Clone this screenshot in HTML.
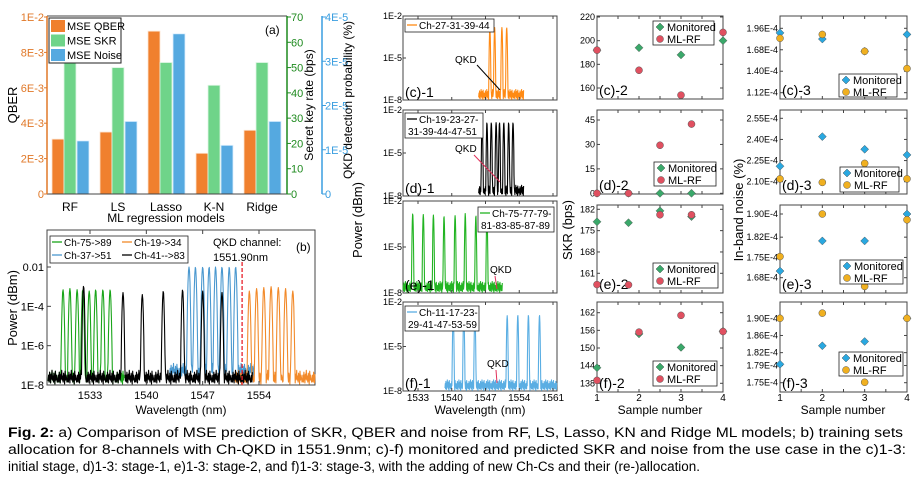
<!DOCTYPE html>
<html><head><meta charset="utf-8">
<style>
html,body{margin:0;padding:0;background:#fff;}
svg{display:block;font-family:"Liberation Sans",Arial,sans-serif;}
</style></head>
<body>
<svg id="fig" width="923" height="482" viewBox="0 0 923 482" xmlns="http://www.w3.org/2000/svg"></svg>
<script>
// ---------- Panel (a) data ----------
const aCategories = ["RF","LS","Lasso","K-N","Ridge"];
const aQBER = [3.1e-3, 3.5e-3, 9.2e-3, 2.3e-3, 3.6e-3];
const aSKR = [52, 50, 52, 43, 52];
const aNoise = [1.2e-5, 1.64e-5, 3.62e-5, 1.1e-5, 1.64e-5];
const aQberTicks = ["0","2E-3","4E-3","6E-3","8E-3","1E-2"];
const aQberTickVals = [0,2e-3,4e-3,6e-3,8e-3,1e-2];
const aSkrTicks = [0,10,20,30,40,50,60,70];
const aNoiseTickVals = [0,1e-5,2e-5,3e-5,4e-5];
const aNoiseTicks = ["0","1E-5","2E-5","3E-5","4E-5"];

// ---------- Panel (b) data ----------
const bGreenPeaks = [1529.65,1530.5,1531.4,1532.1,1532.9,1533.7,1534.6,1535.5];
const bGreenPow = [7e-4,8e-4,7e-4,7e-4,6e-4,7e-4,7e-4,7e-4];
const bBlackPeaks = [1532.2,1537.1,1539.5,1542.1,1544.5,1547.0,1549.4];
const bBlackPow = [1.1e-3,5e-4,4e-4,6e-4,7e-4,6e-4,5e-4];
const bBluePeaks = [1545.3,1546.1,1547.0,1547.8,1548.6,1549.4,1550.3,1551.1];
const bBluePow = [1e-2,1e-2,1e-2,1e-2,1e-2,1e-2,1e-2,1e-2];
const bOrangePeaks = [1552.8,1553.7,1554.6,1555.5,1556.4,1557.3,1558.2];
const bOrangePow = [6e-4,8e-4,9e-4,1e-3,9e-4,8e-4,6e-4];
const bXTicks = [1533,1540,1547,1554];
const bYTickVals = [1e-2,1e-4,1e-6,1e-8];
const bYTicks = ["0.01","1E-4","1E-6","1E-8"];

// ---------- Column 1 spectra data ----------
const cPeaks = [1547.9,1548.9,1550.4,1551.4];
const cPow = [1.5e-3,1.5e-3,1.5e-3,1.5e-3];
const dPeaks = [1546.3,1547.3,1548.2,1549.2,1549.9,1550.8,1551.8,1552.7];
const dPow = [1.3e-3,1.3e-3,1.3e-3,1.3e-3,1.3e-3,1.3e-3,1.3e-3,1.3e-3];
const ePeaks = [1531.9,1534.1,1536.2,1538.4,1540.7,1542.8,1545.0,1547.3];
const ePow = [1.5e-3,1.3e-3,1.2e-3,1.0e-3,1.1e-3,1.5e-3,1.1e-3,1.0e-3];
const fPeaks = [1540.3,1542.5,1544.8,1551.5,1553.7,1555.9,1558.2];
const fPow = [1.2e-3,1.2e-3,1.2e-3,1.2e-3,1.3e-3,1.3e-3,1.3e-3];
const colXTicks = [1533,1540,1547,1554,1561];

// ---------- Columns 2/3 scatter data ----------
const samples = [1,2,3,4];
const c2Mon = [192,194,188,200];   const c2RF = [192,175,154,207];
const c3Mon = [1.90,1.82,1.66,1.88]; const c3RF = [1.83,1.88,1.66,1.435];
const d2Mon = [0,0,0,0];           const d2RF = [0,0,29.5,42.5];
const d3Mon = [2.21,2.42,2.33,2.29]; const d3RF = [2.12,2.095,2.23,2.12];
const e2Mon = [177.9,177.6,181.5,179.6]; const e2RF = [157.3,157.2,180.2,180.2];
const e3Mon = [1.703,1.807,1.807,1.90]; const e3RF = [1.753,1.90,1.65,1.88];
const f2Mon = [143.3,154.8,150.2,155.7]; const f2RF = [139,155.4,161.1,155.6];
const f3Mon = [1.793,1.836,1.846,1.90]; const f3RF = [1.90,1.912,1.751,1.90];
const c2Ticks = [160,180,200,220]; const c3Ticks = [1.12,1.40,1.68,1.96];
const d2Ticks = [0,15,30,45];      const d3Ticks = [2.10,2.25,2.40,2.55];
const e2Ticks = [161,168,175,182]; const e3Ticks = [1.68,1.75,1.82,1.90];
const f2Ticks = [138,144,150,156,162]; const f3Ticks = [1.75,1.79,1.82,1.86,1.90];

const NS="http://www.w3.org/2000/svg";
const svg=document.getElementById('fig');
function mk(tag,attrs,parent){const e=document.createElementNS(NS,tag);for(const k in attrs)e.setAttribute(k,attrs[k]);(parent||svg).appendChild(e);return e;}
function txt(s,x,y,size,anchor,fill,parent,extra){const t=mk('text',Object.assign({x:x,y:y,'font-size':size,'text-anchor':anchor||'start',fill:fill||'#000'},extra||{}),parent);t.textContent=s;return t;}
function lin(d0,d1,r0,r1){return v=>r0+(v-d0)/(d1-d0)*(r1-r0);}
function logS(d0,d1,r0,r1){return v=>r0+(Math.log10(v)-d0)/(d1-d0)*(r1-r0);}

// ================= Panel (a) =================
const gA=mk('g',{});


const aY1=lin(0,1e-2,194,17), aY2=lin(0,70,194,17), aY3=lin(0,4e-5,194,17);
const aX=i=>70+i*48;
const bw=12;
aCategories.forEach((c,i)=>{
  const r1=mk('rect',{x:aX(i)-18,y:aY1(aQBER[i]),width:bw,height:194-aY1(aQBER[i]),fill:'#f0802e',stroke:'#fde3cf','stroke-width':0.8},gA);
  
  
  const r2=mk('rect',{x:aX(i)-6,y:aY2(aSKR[i]),width:bw,height:194-aY2(aSKR[i]),fill:'#6fd489',stroke:'#dff6e5','stroke-width':0.8},gA);
  
  
  const r3=mk('rect',{x:aX(i)+7,y:aY3(aNoise[i]),width:bw,height:194-aY3(aNoise[i]),fill:'#55a9e0',stroke:'#dcefff','stroke-width':0.8},gA);
  
  
  const l=txt(c,aX(i),211,12,'middle','#000',gA);
  
  
});
mk('line',{x1:47,y1:16,x2:287,y2:16,stroke:'#444','stroke-width':1},gA);
mk('line',{x1:47,y1:194,x2:287,y2:194,stroke:'#444','stroke-width':1},gA);
mk('line',{x1:47,y1:16,x2:47,y2:194,stroke:'#e07828','stroke-width':1.5},gA);
mk('line',{x1:287,y1:16,x2:287,y2:194,stroke:'#1e8a1e','stroke-width':1.5},gA);
mk('line',{x1:322,y1:16,x2:322,y2:194,stroke:'#3a9ee0','stroke-width':1.5},gA);
aQberTickVals.forEach((v,i)=>{mk('line',{x1:44,y1:aY1(v),x2:47,y2:aY1(v),stroke:'#e07828'},gA);
  const t=txt(aQberTicks[i],44,aY1(v)+4,11,'end','#e07828',gA);
  });
aSkrTicks.forEach(v=>{mk('line',{x1:287,y1:aY2(v),x2:291,y2:aY2(v),stroke:'#1e8a1e'},gA);
  const t=txt(String(v),291,aY2(v)+4,11,'start','#1e8a1e',gA);
  });
aNoiseTickVals.forEach((v,i)=>{mk('line',{x1:322,y1:aY3(v),x2:326,y2:aY3(v),stroke:'#3a9ee0'},gA);
  const t=txt(aNoiseTicks[i],325,aY3(v)+4,11,'start','#3a9ee0',gA);
  });
let t;
t=txt('QBER',17,105,13,'middle','#000',gA,{transform:'rotate(-90 17 105)'});

t=txt('Secret key rate (bps)',313,105,12,'middle','#000',gA,{transform:'rotate(-90 313 105)'});

t=txt('QKD detection probability (%)',352,100,12,'middle','#000',gA,{transform:'rotate(-90 352 100)'});

t=txt('ML regression models',166,222,12,'middle','#000',gA);

t=txt('(a)',265,34,12,'start','#000',gA);

const aLeg=mk('g',{},gA);


mk('rect',{x:49,y:18,width:72,height:45,fill:'#fff',stroke:'#222','stroke-width':1},aLeg);
[['MSE QBER','#f0802e'],['MSE SKR','#6fd489'],['MSE Noise','#55a9e0']].forEach((e,i)=>{
  mk('rect',{x:51,y:20+i*14.5,width:14,height:12,fill:e[1]},aLeg);
  const lt=txt(e[0],67,30+i*14.5,11,'start','#000',aLeg);
  
});

// ================= spectrum helper =================
const jitter=[0.15,0.45,0.1,0.6,0.3,0.05,0.5,0.25,0.7,0.2,0.4,0.1,0.55,0.35,0.0,0.65,0.2,0.45,0.3,0.1];
function spectrum(g,peaks,pows,fs,fe,xs,ys,color,hw,floorLog){
  let d='';let k=0;
  for(let l=fs;l<=fe;l+=0.06){
    let lp=floorLog+jitter[k%jitter.length];k++;
    peaks.forEach((p,i)=>{const v=Math.log10(pows[i])-6*Math.pow((l-p)/hw,2);if(v>lp)lp=v;});
    d+=(d?'L':'M')+xs(l).toFixed(1)+' '+ys(Math.pow(10,lp)).toFixed(1);
  }
  const p=mk('path',{d:d,fill:'none',stroke:color,'stroke-width':1.1,'stroke-linejoin':'round'},g);
  return p;
}

// ================= Panel (b) =================
const gB=mk('g',{});


const bX=lin(1533,1554,90,259), bY=logS(-8,-2,385,267);
mk('rect',{x:47,y:230,width:268,height:155,fill:'#fff',stroke:'#444','stroke-width':1},gB);
let s;
s=spectrum(gB,bGreenPeaks,bGreenPow,1527.8,1537.3,bX,bY,'#1aa51a',0.33,-7.95);

s=spectrum(gB,bBluePeaks,bBluePow,1542.9,1553.4,bX,bY,'#4a98cf',0.33,-7.6);

s=spectrum(gB,bOrangePeaks,bOrangePow,1551.0,1561.0,bX,bY,'#f28a2a',0.33,-7.95);

s=spectrum(gB,bBlackPeaks,bBlackPow,1527.8,1553.2,bX,bY,'#000',0.3,-7.95);

const qk=mk('line',{x1:bX(1551.9),y1:262,x2:bX(1551.9),y2:385,stroke:'#e8202a','stroke-width':1.3,'stroke-dasharray':'4 2'},gB);

bXTicks.forEach(v=>{mk('line',{x1:bX(v),y1:385,x2:bX(v),y2:381,stroke:'#444'},gB);mk('line',{x1:bX(v),y1:230,x2:bX(v),y2:234,stroke:'#444'},gB);
  const tt=txt(String(v),bX(v),399,11,'middle','#000',gB);});
bYTickVals.forEach((v,i)=>{mk('line',{x1:47,y1:bY(v),x2:51,y2:bY(v),stroke:'#444'},gB);
  const tt=txt(bYTicks[i],44,bY(v)+4,11,'end','#000',gB);});
t=txt('Power (dBm)',17,308,13,'middle','#000',gB,{transform:'rotate(-90 17 308)'});

t=txt('Wavelength (nm)',181,414,12,'middle','#000',gB);

t=txt('QKD channel:',213,246,11,'start','#000',gB);

t=txt('1551.90nm',213,261,11,'start','#000',gB);

t=txt('(b)',296,251,12,'start','#000',gB);

const bLeg=mk('g',{},gB);


mk('rect',{x:50,y:236,width:138,height:27,fill:'#fff',stroke:'#222','stroke-width':0.8},bLeg);
[['Ch-75->89','#1aa51a',52,246],['Ch-19->34','#f28a2a',122,246],['Ch-37->51','#4a98cf',52,259],['Ch-41-->83','#000',122,259]].forEach(e=>{
  mk('line',{x1:e[2],y1:e[3]-4,x2:e[2]+10,y2:e[3]-4,stroke:e[1],'stroke-width':1.3},bLeg);
  const lt=txt(e[0],e[2]+12,e[3],10,'start','#000',bLeg);
});

// ================= Column 1 spectra =================
const colX=lin(1533,1561,418,553);
function specPanel(name,top,bot,peaks,pows,fs,fe,color,legLines,legBox,label,qkd,qkdColor,showX){
  const g=mk('g',{});
  
  
  const ys=logS(-8,-2,bot,top);
  mk('rect',{x:403,y:top,width:154,height:bot-top,fill:'#fff',stroke:'#444','stroke-width':1},g);
  const sp=spectrum(g,peaks,pows,fs,fe,colX,ys,color,0.28,-7.95);
  
  [1e-2,1e-5,1e-8].forEach((v,i)=>{mk('line',{x1:403,y1:ys(v),x2:406,y2:ys(v),stroke:'#444'},g);
    const tt=txt(['1E-2','1E-5','1E-8'][i],402,ys(v)+3,9,'end','#000',g);});
  colXTicks.forEach(v=>{mk('line',{x1:colX(v),y1:bot,x2:colX(v),y2:bot-3,stroke:'#444'},g);mk('line',{x1:colX(v),y1:top,x2:colX(v),y2:top+3,stroke:'#444'},g);
    if(showX){const tt=txt(String(v),colX(v),401,10,'middle','#000',g);}});
  const lg=mk('g',{},g);
  
  
  mk('rect',{x:legBox[0],y:legBox[1],width:legBox[2],height:legBox[3],fill:'#fff',stroke:'#222','stroke-width':0.8},lg);
  mk('line',{x1:legBox[0]+2,y1:legBox[1]+6,x2:legBox[0]+12,y2:legBox[1]+6,stroke:color,'stroke-width':1.3},lg);
  legLines.forEach((l,i)=>{const tt=txt(l,legBox[0]+(i==0?14:3),legBox[1]+10+i*12,10,'start','#000',lg);});
  const pl=txt(label,405,bot-3,14,'start','#000',g);
  const qt=txt('QKD',qkd[0],qkd[1],10,'start','#000',g);
  const ql=mk('line',{x1:qkd[2],y1:qkd[3],x2:qkd[4],y2:qkd[5],stroke:qkdColor,'stroke-width':1},g);
  
}
specPanel('panel-c1-spectrum',16,100,cPeaks,cPow,1545.6,1554.9,'#ff8a14',['Ch-27-31-39-44'],[405,19,89,13],'(c)-1',[455,63,477,65,500,90],'#000',false);
specPanel('panel-d1-spectrum',110,196,dPeaks,dPow,1545.6,1554.9,'#000',['Ch-19-23-27-','31-39-44-47-51'],[405,113,78,25],'(d)-1',[455,152,474,155,500,182],'#e0305a',false);
specPanel('panel-e1-spectrum',201,293,ePeaks,ePow,1529.9,1550.5,'#22b422',['Ch-75-77-79-','81-83-85-87-89'],[478,207,76,25],'(e)-1',[490,273,495,276,497,289],'#e0305a',false);
specPanel('panel-f1-spectrum',302,391,fPeaks,fPow,1538.6,1561.8,'#5aaee3',['Ch-11-17-23-','29-41-47-53-59'],[405,306,74,25],'(f)-1',[487,367,496,370,497,383],'#e0305a',true);
t=txt('Power (dBm)',362,220,13,'middle','#000',null,{transform:'rotate(-90 362 220)'});

t=txt('Wavelength (nm)',480,414,12,'middle','#000');


// ================= scatter panels =================
function diamond(g,x,y,fill){const p=mk('path',{d:`M${x} ${y-4}L${x+4} ${y}L${x} ${y+4}L${x-4} ${y}Z`,fill:fill,stroke:'#333','stroke-width':0.4},g);return p;}
function scatterPanel(name,x0,x1,top,bot,xmax,ys,ticks,fmt,mon,rf,monColor,rfColor,label,leg,showX){
  const g=mk('g',{});
  
  
  const xs=lin(1,xmax,x0,x1);
  mk('rect',{x:x0,y:top,width:x1-x0,height:bot-top,fill:'#fff',stroke:'#444','stroke-width':1},g);
  ticks.forEach(v=>{mk('line',{x1:x0,y1:ys(v),x2:x0+3,y2:ys(v),stroke:'#444'},g);mk('line',{x1:x1,y1:ys(v),x2:x1-3,y2:ys(v),stroke:'#444'},g);
    const tt=txt(fmt(v),x0-2,ys(v)+3,9,'end','#000',g);});
  for(let k=0;k<=6;k++){const xx=x0+(x1-x0)*k/6;mk('line',{x1:xx,y1:top,x2:xx,y2:top+3,stroke:'#444'},g);mk('line',{x1:xx,y1:bot,x2:xx,y2:bot-3,stroke:'#444'},g);}
  const pl=txt(label,x0+2,bot-4,14,'start','#000',g);
  samples.forEach((sv,i)=>{
    const m=diamond(g,xs(sv),ys(mon[i]),monColor);
    
    
    const c=mk('circle',{cx:xs(sv),cy:ys(rf[i]),r:3.5,fill:rfColor,stroke:'#555','stroke-width':0.5},g);
    
    
  });
  const lg=mk('g',{},g);
  
  
  mk('rect',{x:leg[0],y:leg[1],width:leg[2],height:leg[3],fill:'#fff',stroke:'#222','stroke-width':0.8},lg);
  diamond(lg,leg[0]+7,leg[1]+6,monColor);
  mk('circle',{cx:leg[0]+7,cy:leg[1]+18,r:3.5,fill:rfColor,stroke:'#555','stroke-width':0.5},lg);
  let e1=txt('Monitored',leg[0]+14,leg[1]+10,11,'start','#000',lg);
  let e2=txt('ML-RF',leg[0]+14,leg[1]+22,11,'start','#000',lg);
  if(showX){samples.forEach(sv=>{const tt=txt(String(sv),xs(sv),401,10,'middle','#000',g);});}
}
const G='#3aa86a',R='#e05060',B='#2aa8e0',O='#f0b020';
const f0=v=>String(v), fe=v=>v.toFixed(2)+'E-4';
scatterPanel('panel-c2-skr',597,723,16,99,4,lin(160,220,88,17),c2Ticks,f0,c2Mon,c2RF,G,R,'(c)-2',[653,21,61,24],false);
scatterPanel('panel-d2-skr',597,723,110,194,5,lin(0,45,193.3,120),d2Ticks,f0,d2Mon,d2RF,G,R,'(d)-2',[654,162,62,24],false);
scatterPanel('panel-e2-skr',597,723,205,293,5,lin(161,182,273.3,209.3),e2Ticks,f0,e2Mon,e2RF,G,R,'(e)-2',[653,263,65,25],false);
scatterPanel('panel-f2-skr',597,723,302,392,4,lin(138,162,383.3,312.7),f2Ticks,f0,f2Mon,f2RF,G,R,'(f)-2',[653,361,64,25],true);
scatterPanel('panel-c3-noise',780,907,16,99,4,lin(1.12,1.96,92.7,28.3),c3Ticks,fe,c3Mon,c3RF,B,O,'(c)-3',[839,74,58,23],false);
scatterPanel('panel-d3-noise',780,907,110,194,4,lin(2.10,2.55,181.7,118.3),d3Ticks,fe,d3Mon,d3RF,B,O,'(d)-3',[840,167,59,25],false);
scatterPanel('panel-e3-noise',780,907,205,293,4,lin(1.68,1.90,277.7,214),e3Ticks,fe,e3Mon,e3RF,B,O,'(e)-3',[840,260,63,24],false);
scatterPanel('panel-f3-noise',780,907,302,392,4,lin(1.75,1.90,382.7,318.3),f3Ticks,fe,f3Mon,f3RF,B,O,'(f)-3',[839,352,64,24],true);
t=txt('SKR (bps)',572,230,13,'middle','#000',null,{transform:'rotate(-90 572 230)'});

t=txt('In-band noise (%)',743,210,13,'middle','#000',null,{transform:'rotate(-90 743 210)'});

t=txt('Sample number',660,414,12,'middle','#000');

t=txt('Sample number',843,414,12,'middle','#000');


// ================= Caption =================
const cap=mk('g',{});


const l1=mk('text',{x:8,y:437,'font-size':13.5,textLength:895,lengthAdjust:'spacingAndGlyphs'},cap);
const b1=mk('tspan',{'font-weight':'bold'},l1);b1.textContent='Fig. 2:';
const r1=mk('tspan',{},l1);r1.textContent=' a) Comparison of MSE prediction of SKR, QBER and noise from RF, LS, Lasso, KN and Ridge ML models; b) training sets';
const l2=mk('text',{x:8,y:454,'font-size':13.5,textLength:898,lengthAdjust:'spacingAndGlyphs'},cap);
l2.textContent='allocation for 8-channels with Ch-QKD in 1551.9nm; c)-f) monitored and predicted SKR and noise from the use case in the c)1-3:';
const l3=mk('text',{x:8,y:471,'font-size':13.5,textLength:692,lengthAdjust:'spacingAndGlyphs'},cap);
l3.textContent='initial stage, d)1-3: stage-1, e)1-3: stage-2, and f)1-3: stage-3, with the adding of new Ch-Cs and their (re-)allocation.';
</script>
</body></html>
